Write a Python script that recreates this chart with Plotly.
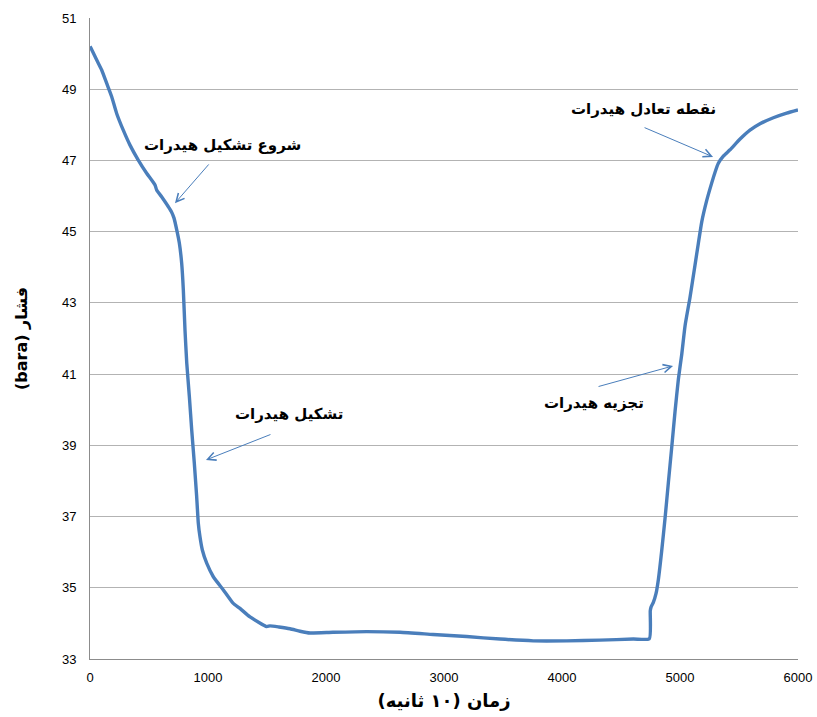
import plotly.graph_objects as go

# Pressure history of the hydrate test cell (time in units of 10 s)
time_10s = [0, 6, 57, 99, 141, 184, 226, 282, 339, 409, 480, 551, 565, 607,
            636, 664, 690, 712, 735, 757, 777, 791, 805, 820, 842, 862, 884,
            904, 918, 932, 952, 989, 1045, 1130, 1212, 1271, 1356, 1497, 1525,
            1600, 1695, 1780, 1864, 2059, 2345, 2627, 2907, 3192, 3475, 3757,
            4040, 4322, 4604, 4740, 4748, 4754, 4774, 4797, 4817, 4845, 4873,
            4901, 4930, 4958, 4986, 5015, 5043, 5085, 5127, 5155, 5184, 5226,
            5269, 5297, 5325, 5367, 5424, 5509, 5593, 5678, 5791, 5904, 6000]
pressure_bara = [50.2, 50.17, 49.82, 49.54, 49.17, 48.79, 48.32, 47.85, 47.43,
                 47.01, 46.64, 46.31, 46.17, 45.98, 45.84, 45.7, 45.56, 45.38,
                 45.05, 44.68, 44.11, 43.36, 42.24, 41.31, 40.37, 39.43, 38.5,
                 37.56, 36.81, 36.43, 36.06, 35.69, 35.31, 34.94, 34.57, 34.42,
                 34.18, 33.91, 33.93, 33.9, 33.85, 33.78, 33.73, 33.75, 33.77,
                 33.75, 33.69, 33.63, 33.56, 33.51, 33.51, 33.53, 33.56, 33.57,
                 34.35, 34.45, 34.59, 34.84, 35.24, 36.04, 36.94, 37.94, 38.95,
                 39.95, 40.85, 41.56, 42.36, 43.16, 44.06, 44.66, 45.27, 45.87,
                 46.37, 46.67, 46.92, 47.12, 47.3, 47.6, 47.85, 48.03, 48.2,
                 48.33, 48.42]

x_ticks = [0, 1000, 2000, 3000, 4000, 5000, 6000]
y_ticks = [33, 35, 37, 39, 41, 43, 45, 47, 49, 51]

# Callout labels: text, text position, arrow tail, arrow tip (data units)
callout_text = ["شروع تشکیل هیدرات", "نقطه تعادل هیدرات", "تشکیل هیدرات", "تجزیه هیدرات"]
callout_xy = [(1119, 47.43), (4687, 48.44), (1686, 39.88), (4271, 40.19)]
arrow_tail = [(1017, 46.93), (4687, 47.94), (1542, 39.32), (4297, 40.64)]
arrow_tip = [(720, 45.80), (5280, 47.10), (983, 38.59), (4941, 41.23)]

LINE_BLUE = "#4a7ebb"
ARABIC_FONT = "DejaVu Sans"

fig = go.Figure()
fig.add_trace(go.Scatter(
    x=time_10s, y=pressure_bara, mode="lines",
    line=dict(color=LINE_BLUE, width=3.4, shape="spline", smoothing=0.5),
    hoverinfo="skip", showlegend=False,
))

annotations = []
for txt, (tx, ty) in zip(callout_text, callout_xy):
    annotations.append(dict(
        x=tx, y=ty, xref="x", yref="y", text=f"<b>{txt}</b>", showarrow=False,
        font=dict(family=ARABIC_FONT, size=15, color="#000000"),
    ))
for (ax, ay), (hx, hy) in zip(arrow_tail, arrow_tip):
    annotations.append(dict(
        x=hx, y=hy, ax=ax, ay=ay, xref="x", yref="y", axref="x", ayref="y",
        text="", showarrow=True, arrowhead=5, arrowsize=1.6, arrowwidth=1,
        arrowcolor=LINE_BLUE, standoff=0, startstandoff=0,
    ))

fig.update_layout(
    width=817, height=717,
    margin=dict(l=90, r=19, t=18, b=58),
    paper_bgcolor="white", plot_bgcolor="white",
    annotations=annotations,
    font=dict(family="Liberation Sans", size=13, color="#000000"),
)
fig.update_xaxes(
    range=[0, 6000], tickvals=x_ticks, showgrid=False, zeroline=False,
    showline=True, linecolor="#8c8c8c", linewidth=1,
    ticks="outside", ticklen=6, tickcolor="rgba(0,0,0,0)",
    automargin=False, ticklabeloverflow="allow",
    title=dict(text="<b>زمان (۱۰ ثانیه)\u200f</b>",
               font=dict(family=ARABIC_FONT, size=18), standoff=10),
)
fig.update_yaxes(
    range=[33, 51], tickvals=y_ticks, showgrid=True, gridcolor="#b3b3b3",
    gridwidth=1, zeroline=False, showline=True, linecolor="#8c8c8c",
    linewidth=1, ticks="outside", ticklen=10, tickcolor="rgba(0,0,0,0)",
    automargin=False, ticklabeloverflow="allow",
    title=dict(text="<b>(bara) فشار</b>",
               font=dict(family=ARABIC_FONT, size=16), standoff=30),
)

fig.write_html("out.html")
